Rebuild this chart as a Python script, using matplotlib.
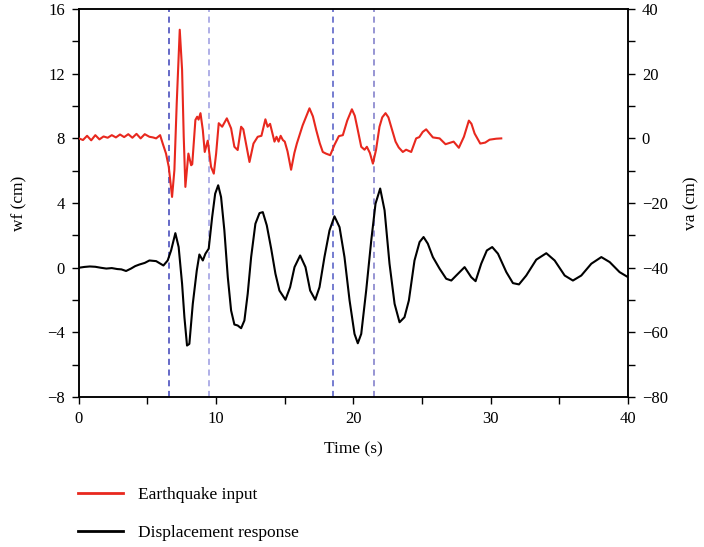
import matplotlib
matplotlib.use("Agg")
import matplotlib.pyplot as plt
from matplotlib.ticker import MultipleLocator
from matplotlib.lines import Line2D

plt.rcParams['font.family'] = ['Liberation Serif', 'DejaVu Serif']

# Earthquake input (right axis, va units)
eq_t = [0, 0.3, 0.6, 0.9, 1.2, 1.5, 1.8, 2.1, 2.4, 2.7, 3.0, 3.3, 3.6, 3.9, 4.2, 4.5, 4.8,
        5.14, 5.4, 5.63, 5.92, 6.11, 6.35, 6.55, 6.79, 6.96, 7.13, 7.35, 7.52, 7.64, 7.76,
        7.98, 8.18, 8.26, 8.49, 8.62, 8.72, 8.86, 9.03, 9.17, 9.39, 9.63, 9.83, 10.0, 10.19,
        10.44, 10.78, 11.09, 11.33, 11.57, 11.82, 11.98, 12.43, 12.72, 13.03, 13.3, 13.59,
        13.75, 13.93, 14.25, 14.4, 14.55, 14.7, 14.86, 15.0, 15.2, 15.46, 15.7, 15.88, 16.3,
        16.8, 17.05, 17.29, 17.55, 17.77, 18.0, 18.31, 18.62, 18.94, 19.23, 19.55, 19.89,
        20.1, 20.27, 20.57, 20.81, 20.98, 21.2, 21.42, 21.65, 21.9, 22.1, 22.34, 22.55,
        22.75, 23.07, 23.3, 23.6, 23.84, 24.21, 24.57, 24.8, 25.05, 25.3, 25.55, 25.79,
        26.28, 26.71, 27.3, 27.68, 28.05, 28.41, 28.6, 28.83, 29.24, 29.6, 29.92, 30.4,
        30.77]
eq_v = [0, -0.5, 0.8, -0.6, 1.0, -0.3, 0.6, 0.2, 1.0, 0.3, 1.2, 0.4, 1.3, 0.2, 1.4, 0.0,
        1.3, 0.5, 0.3, 0.0, 1.0, -1.6, -4.7, -8.8, -18.1, -9.8, 10.9, 33.6, 21.2, 0.5, -15.0,
        -4.7, -8.3, -8.0, 5.7, 6.7, 5.8, 7.8, 2.6, -4.2, -0.7, -8.8, -10.9, -4.7, 4.7,
        3.6, 6.2, 3.1, -2.6, -3.6, 3.6, 2.8, -7.3, -1.6, 0.5, 0.8, 5.9, 3.6, 4.5, -1.0,
        0.5, -1.0, 0.8, -0.5, -1.0, -4.0, -9.7, -4.5, -1.6, 4.0, 9.3, 6.8, 2.6, -1.5, -4.2,
        -4.7, -5.2, -2.0, 0.7, 1.0, 5.5, 9.0, 7.0, 3.6, -2.6, -3.5, -2.6, -4.5, -7.8, -3.5,
        3.6, 6.5, 7.8, 6.5, 3.6, -1.0, -2.8, -4.2, -3.5, -4.2, 0.0, 0.4, 2.0, 2.8, 1.5, 0.3,
        0.0, -1.8, -1.0, -2.9, 0.5, 5.5, 4.5, 1.5, -1.6, -1.3, -0.4, -0.1, 0.0]

# Displacement response (left axis, wf units)
dr_t = [0, 0.4, 0.8, 1.2, 1.6, 2.0, 2.4, 2.8, 3.1, 3.44, 3.8, 4.1, 4.41, 4.8, 5.14, 5.63,
        6.16, 6.47, 6.72, 7.03, 7.27, 7.52, 7.69, 7.88, 8.05, 8.3, 8.59, 8.78, 9.03, 9.22,
        9.46, 9.71, 9.93, 10.15, 10.36, 10.6, 10.85, 11.09, 11.33, 11.57, 11.82, 12.06,
        12.3, 12.55, 12.86, 13.16, 13.4, 13.69, 14.01, 14.32, 14.61, 15.05, 15.39, 15.71,
        16.12, 16.51, 16.85, 17.22, 17.53, 17.89, 18.26, 18.62, 18.99, 19.35, 19.72, 20.08,
        20.32, 20.57, 20.93, 21.3, 21.61, 21.95, 22.27, 22.63, 23.0, 23.36, 23.72, 24.04,
        24.45, 24.82, 25.11, 25.42, 25.79, 26.28, 26.76, 27.13, 27.49, 28.1, 28.58, 28.9,
        29.31, 29.72, 30.11, 30.53, 31.14, 31.62, 32.06, 32.59, 33.32, 34.05, 34.66,
        35.39, 35.99, 36.6, 37.33, 38.06, 38.67, 39.39, 40.0]
dr_v = [0, 0.05, 0.08, 0.06, 0.0, -0.05, -0.02, -0.08, -0.1, -0.2, -0.05, 0.1, 0.2, 0.3,
        0.45, 0.41, 0.14, 0.45, 1.07, 2.14, 1.28, -0.99, -3.06, -4.81, -4.71, -2.23, -0.17,
        0.82, 0.45, 0.87, 1.18, 3.13, 4.58, 5.1, 4.37, 2.31, -0.58, -2.64, -3.51, -3.57,
        -3.74, -3.26, -1.61, 0.66, 2.72, 3.38, 3.44, 2.62, 1.18, -0.37, -1.41, -1.98, -1.2,
        0.04, 0.76, 0.04, -1.41, -1.98, -1.2, 0.66, 2.31, 3.18, 2.51, 0.66, -2.02, -4.09,
        -4.67, -4.09, -1.41, 1.69, 3.96, 4.9, 3.55, 0.25, -2.23, -3.37, -3.06, -2.02, 0.45,
        1.59, 1.9, 1.49, 0.66, -0.06, -0.68, -0.79, -0.48, 0.04, -0.58, -0.83, 0.25, 1.07,
        1.28, 0.87, -0.27, -0.95, -1.03, -0.48, 0.5, 0.9, 0.45, -0.48, -0.79, -0.48, 0.25,
        0.66, 0.35, -0.27, -0.58]

vlines_t = [6.6, 9.5, 18.5, 21.5]
vlines_c = ['#3a40b8', '#9a9ae0', '#5058c4', '#7a78c8']

fig = plt.figure(figsize=(7.04, 5.47), dpi=100)
ax = fig.add_axes([0.112, 0.274, 0.780, 0.7095])
ax2 = ax.twinx()

for t, c in zip(vlines_t, vlines_c):
    ax.axvline(t, color=c, lw=1.1, ls=(0, (4, 3)), zorder=1)

ax.plot(dr_t, dr_v, color='black', lw=1.5, zorder=3, solid_joinstyle='round')
ax2.plot(eq_t, eq_v, color='#e8281e', lw=1.5, zorder=3, solid_joinstyle='round')

ax.set_xlim(0, 40)
ax.set_ylim(-8, 16)
ax2.set_ylim(-80, 40)

ax.xaxis.set_major_locator(MultipleLocator(10))
ax.xaxis.set_minor_locator(MultipleLocator(5))
ax.yaxis.set_major_locator(MultipleLocator(4))
ax.yaxis.set_minor_locator(MultipleLocator(2))
ax2.yaxis.set_major_locator(MultipleLocator(20))
ax2.yaxis.set_minor_locator(MultipleLocator(10))

for a in (ax, ax2):
    a.tick_params(which='both', direction='out', labelsize=12, width=1)
    a.tick_params(which='major', length=5, pad=5)
    a.tick_params(which='minor', length=5)
    for s in a.spines.values():
        s.set_linewidth(1.1)

ax.set_xlabel('Time (s)', fontsize=12.5, labelpad=10)
ax.set_ylabel('wf (cm)', fontsize=12.5, labelpad=14)
ax2.set_ylabel('va (cm)', fontsize=12.5, labelpad=11)

handles = [Line2D([], [], color='#e8281e', lw=2),
           Line2D([], [], color='black', lw=2)]
fig.legend(handles, ['Earthquake input', 'Displacement response'],
           loc='upper left', bbox_to_anchor=(0.088, 0.138), frameon=False,
           fontsize=12.5, handlelength=2.6, handletextpad=0.9, labelspacing=1.25)

fig.savefig('out.png', dpi=100)
